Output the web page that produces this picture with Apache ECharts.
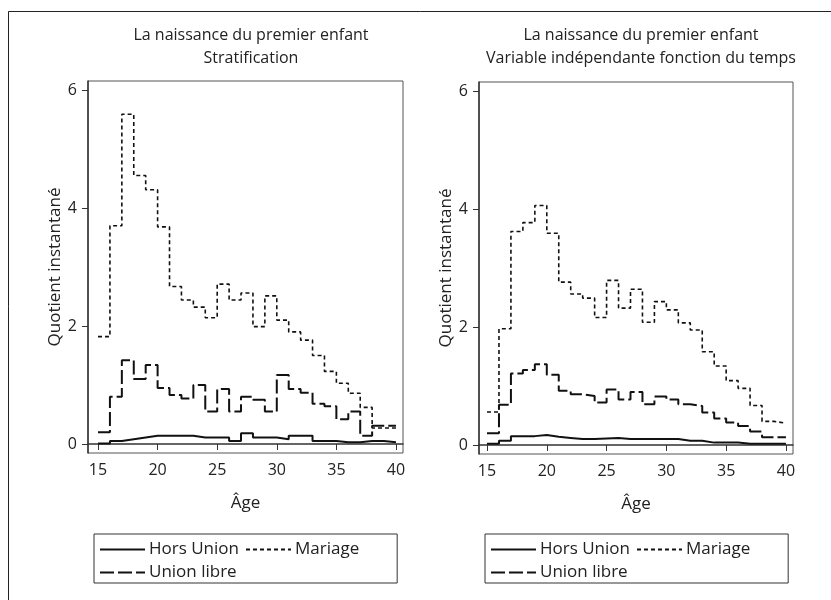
<!DOCTYPE html>
<html>
<head>
<meta charset="utf-8">
<script src="https://cdn.jsdelivr.net/npm/echarts@6/dist/echarts.min.js"></script>
<style>html,body{margin:0;padding:0;background:#fff}#c{width:831px;height:600px}</style>
</head>
<body>
<div id="c"></div>
<script>
// Ages: each value applies to the interval [age, age+1)
const ages = [15,16,17,18,19,20,21,22,23,24,25,26,27,28,29,30,31,32,33,34,35,36,37,38,39];
const xTicks = [15,20,25,30,35,40];
const yTicks = [0,2,4,6];
const seriesNames = ['Hors Union','Mariage','Union libre'];

// Left panel: Stratification
const leftHors   = [0.01,0.05,0.08,0.11,0.14,0.14,0.14,0.14,0.11,0.11,0.11,0.05,0.18,0.11,0.11,0.08,0.14,0.14,0.05,0.05,0.03,0.03,0.05,0.05,0.03];
const leftMar    = [1.82,3.70,5.59,4.55,4.31,3.68,2.67,2.44,2.32,2.14,2.71,2.44,2.56,1.99,2.51,2.10,1.90,1.76,1.50,1.23,1.03,0.86,0.62,0.27,0.27];
const leftLibre  = [0.20,0.80,1.42,1.10,1.34,0.95,0.83,0.77,1.00,0.55,0.93,0.55,0.80,0.75,0.55,1.17,0.93,0.87,0.68,0.64,0.42,0.55,0.14,0.31,0.31];

// Right panel: time-varying covariate
const rightHors  = [0.02,0.07,0.15,0.15,0.17,0.14,0.12,0.10,0.10,0.11,0.12,0.10,0.10,0.10,0.10,0.10,0.07,0.07,0.04,0.04,0.04,0.02,0.02,0.02,0.02];
const rightMar   = [0.56,1.97,3.62,3.77,4.06,3.59,2.76,2.56,2.49,2.16,2.79,2.32,2.64,2.08,2.43,2.29,2.07,1.95,1.58,1.34,1.09,0.96,0.67,0.40,0.37];
const rightLibre = [0.20,0.68,1.21,1.27,1.37,1.19,0.92,0.86,0.83,0.72,0.94,0.77,0.90,0.69,0.82,0.77,0.69,0.66,0.55,0.45,0.38,0.32,0.23,0.13,0.13];

function stepData(vals){
  const d = ages.map((a,i)=>[a, vals[i]]);
  d.push([ages[ages.length-1]+1, vals[vals.length-1]]);
  return d;
}

const FONT = 'Open Sans';
const styles = {
  'Hors Union':  {color:'#111', width:2, type:'solid'},
  'Mariage':     {color:'#111', width:1.6, type:[4,3]},
  'Union libre': {color:'#111', width:2, type:[14,4]}
};

function mkSeries(name, vals, idx){
  const s = styles[name];
  return {
    type:'line', name:name, step:'end', symbol:'none', showSymbol:false,
    xAxisIndex:idx, yAxisIndex:idx, data:stepData(vals),
    lineStyle:{color:s.color, width:s.width, type:s.type},
    itemStyle:{color:s.color},
    animation:false, silent:true
  };
}

function xAxis(idx, min, max){
  return {
    type:'value', gridIndex:idx, min:min, max:max,
    name:'Âge', nameLocation:'middle', nameGap:42,
    nameTextStyle:{fontFamily:FONT, fontSize:17, color:'#222'},
    axisLine:{show:true, lineStyle:{color:'#333', width:1.5}},
    axisTick:{show:true, length:6, customValues:xTicks, lineStyle:{color:'#333', width:1}},
    axisLabel:{customValues:xTicks, fontFamily:FONT, fontSize:16, color:'#222', margin:9},
    splitLine:{show:false}
  };
}
function yAxis(idx){
  return {
    type:'value', gridIndex:idx, min:-0.153, max:6.153,
    name:'Quotient instantané', nameLocation:'middle', nameGap:23, nameRotate:90,
    nameTextStyle:{fontFamily:FONT, fontSize:17, color:'#222'},
    axisLine:{show:true, lineStyle:{color:'#333', width:1.5}},
    axisTick:{show:true, length:6, customValues:yTicks, lineStyle:{color:'#333', width:1}},
    axisLabel:{customValues:yTicks, fontFamily:FONT, fontSize:16, color:'#222', margin:11},
    splitLine:{show:false}
  };
}
function legend(left){
  return {
    left:left, top:534, width:270, orient:'horizontal',
    data:seriesNames, itemWidth:45, itemHeight:20, itemGap:6,
    padding:[7,38,2,5], borderColor:'#333', borderWidth:1, borderRadius:0,
    selectedMode:false,
    itemStyle:{color:'transparent', borderWidth:0, opacity:0},
    textStyle:{fontFamily:FONT, fontSize:17, color:'#222', padding:[0,0,0,-1]}
  };
}

const chart = echarts.init(document.getElementById('c'), null, {renderer:'canvas'});
chart.setOption({
  backgroundColor:'#fff',
  animation:false,
  title:[
    {text:'La naissance du premier enfant\nStratification', left:246, top:19, textAlign:'center',
     textStyle:{fontFamily:FONT, fontSize:16, fontWeight:'normal', color:'#222', lineHeight:23}},
    {text:'La naissance du premier enfant\nVariable indépendante fonction du temps', left:636, top:19, textAlign:'center',
     textStyle:{fontFamily:FONT, fontSize:16, fontWeight:'normal', color:'#222', lineHeight:23}}
  ],
  grid:[
    {left:88, top:81, width:315, height:372, show:true, borderColor:'#555', borderWidth:1, backgroundColor:'#fff'},
    {left:479, top:82, width:314, height:372, show:true, borderColor:'#555', borderWidth:1, backgroundColor:'#fff'}
  ],
  xAxis:[xAxis(0, 14.16, 40.59), xAxis(1, 14.33, 40.59)],
  yAxis:[yAxis(0), yAxis(1)],
  legend:[legend(94), legend(485)],
  graphic:[{type:'rect', shape:{x:8.5, y:11.5, width:900, height:700}, style:{fill:null, stroke:'#222', lineWidth:1}, silent:true, z:-1}],
  series:[
    mkSeries('Hors Union', leftHors, 0),
    mkSeries('Mariage', leftMar, 0),
    mkSeries('Union libre', leftLibre, 0),
    mkSeries('Hors Union', rightHors, 1),
    mkSeries('Mariage', rightMar, 1),
    mkSeries('Union libre', rightLibre, 1)
  ]
});
</script>
</body>
</html>
